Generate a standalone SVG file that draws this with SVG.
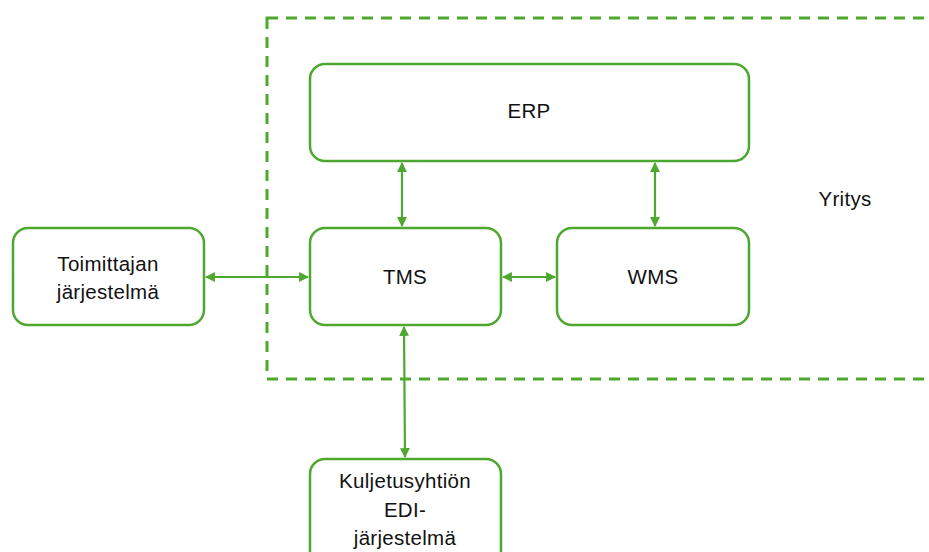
<svg xmlns="http://www.w3.org/2000/svg" width="929" height="552" viewBox="0 0 929 552">
<style>
.box{fill:#fff;stroke:#4ea72e;stroke-width:2.5}
.t{font-family:"Liberation Sans",Arial,sans-serif;font-size:20.5px;letter-spacing:0.3px;fill:#111;text-anchor:middle;dominant-baseline:central}
.c{stroke:#4ea72e;stroke-width:2.2;fill:none;marker-start:url(#a);marker-end:url(#a)}
</style>
<defs>
<marker id="a" viewBox="0 0 10 10" refX="9" refY="5" markerWidth="4.5" markerHeight="4.5" orient="auto-start-reverse" markerUnits="strokeWidth">
<path d="M0,0 L10,5 L0,10 Z" fill="#4ea72e"/>
</marker>
</defs>
<rect width="929" height="552" fill="#fff"/>
<g id="yritys">
<rect x="267" y="18" width="680" height="361" fill="none" stroke="#4ea72e" stroke-width="3" stroke-dasharray="11 8"/>
<text class="t" x="845" y="198">Yritys</text>
</g>
<g id="connectors">
<line class="c" x1="402" y1="163" x2="402" y2="226"/>
<line class="c" x1="655" y1="163" x2="655" y2="226"/>
<line class="c" x1="503" y1="277" x2="555" y2="277"/>
<line class="c" x1="206" y1="277" x2="308" y2="277"/>
<line class="c" x1="404" y1="327" x2="405" y2="457"/>
</g>
<g id="erp">
<rect class="box" x="310" y="64" width="439" height="97" rx="15"/>
<text class="t" x="529" y="110">ERP</text>
</g>
<g id="tms">
<rect class="box" x="310" y="228" width="191" height="97" rx="15"/>
<text class="t" x="405" y="276">TMS</text>
</g>
<g id="wms">
<rect class="box" x="557" y="228" width="192" height="97" rx="15"/>
<text class="t" x="653" y="276">WMS</text>
</g>
<g id="toimittaja">
<rect class="box" x="13" y="228" width="191" height="97" rx="15"/>
<text class="t" x="108" y="263">Toimittajan</text>
<text class="t" x="108" y="291">järjestelmä</text>
</g>
<g id="kuljetus">
<rect class="box" x="310" y="459" width="191" height="110" rx="15"/>
<text class="t" x="405" y="480">Kuljetusyhtiön</text>
<text class="t" x="405" y="509">EDI-</text>
<text class="t" x="405" y="537">järjestelmä</text>
</g>
</svg>
